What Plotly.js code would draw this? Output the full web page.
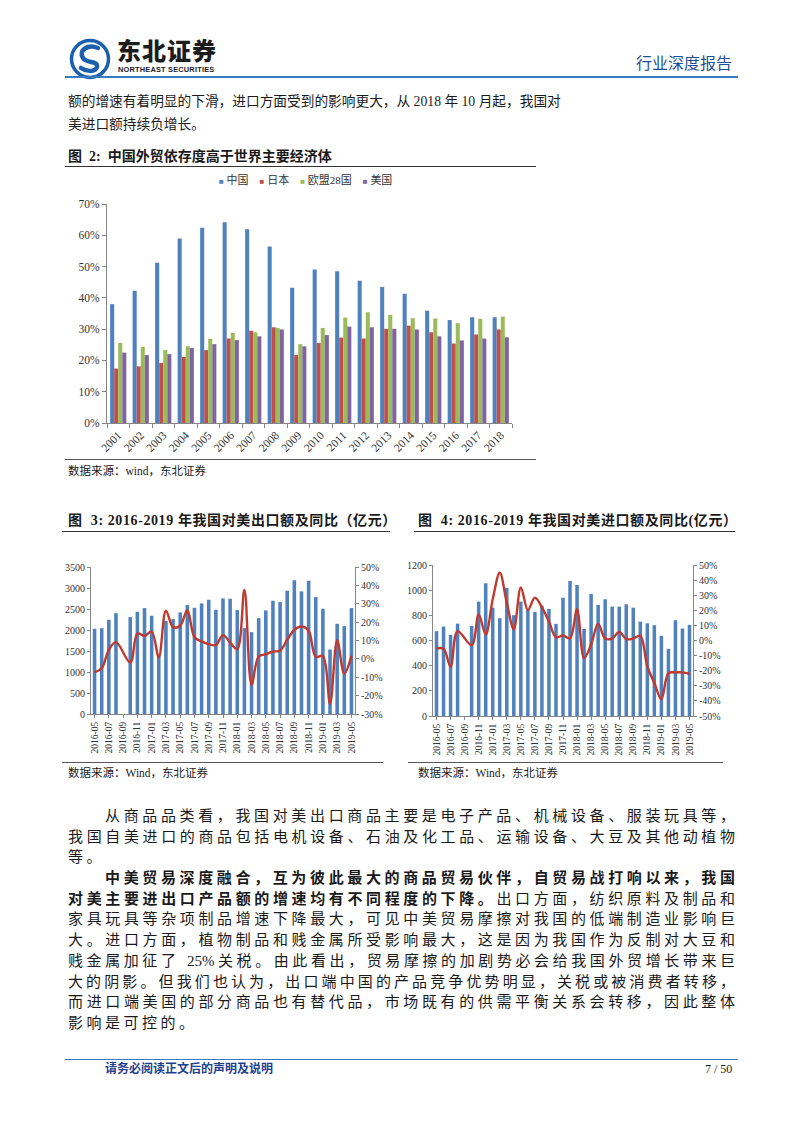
<!DOCTYPE html>
<html>
<head>
<meta charset="utf-8">
<script src="https://cdn.plot.ly/plotly-3.0.1.min.js"></script>
<style>
body{margin:0;width:802px;height:1133px;position:relative;background:#fff;overflow:hidden;
  font-family:"Liberation Serif","Noto Sans CJK SC",serif;color:#1a1a1a}
.a{position:absolute}
.ln{position:absolute;left:68px;width:667px;font-size:15px;line-height:20px;height:20px;
  text-align:justify;text-align-last:justify}
.ln.last{text-align:left;text-align-last:left;letter-spacing:3.5px}
.ln.ind{padding-left:37px;width:630px}
.top{position:absolute;left:68px;font-size:13.7px;line-height:20px;white-space:nowrap}
.hr{position:absolute;height:0}
.ftitle{position:absolute;font-size:14px;font-weight:bold;line-height:18px;white-space:nowrap}
.src{position:absolute;font-size:11.5px;line-height:14px;white-space:nowrap}
b{font-weight:bold}
</style>
</head>
<body>

<!-- header -->
<svg class="a" style="left:68px;top:38px" width="46" height="42" viewBox="0 0 46 42">
  <circle cx="22" cy="21" r="18.5" fill="none" stroke="#1b5fae" stroke-width="3.5"/>
  <path d="M30 10 C20 6 10 12 15 20 C19 26 30 22 29 29 C27 35 17 33 13 30" fill="none" stroke="#1b5fae" stroke-width="4.5" stroke-linecap="round"/>
</svg>
<div class="a" style="left:117px;top:37px;font-family:'Noto Sans CJK SC';font-weight:900;font-size:24px;line-height:26px;color:#1c1c1c;letter-spacing:1px">东北证券</div>
<div class="a" style="left:118px;top:66px;font-family:'Liberation Sans';font-weight:bold;font-size:7.4px;line-height:8px;color:#1c1c1c;letter-spacing:0.2px">NORTHEAST SECURITIES</div>
<div class="a" style="left:636px;top:52px;font-family:'Noto Sans CJK SC';font-size:16px;line-height:20px;color:#1f4f95">行业深度报告</div>
<div class="hr" style="left:65px;top:76px;width:673px;border-top:2px solid #3a78c2"></div>

<!-- top paragraph -->
<div class="top" style="top:92px">额的增速有着明显的下滑，进口方面受到的影响更大，从 2018 年 10 月起，我国对</div>
<div class="top" style="top:115px">美进口额持续负增长。</div>

<!-- figure 2 -->
<div class="ftitle" style="left:68px;top:148px">图&nbsp; 2:&nbsp; 中国外贸依存度高于世界主要经济体</div>
<div class="hr" style="left:65px;top:166px;width:471px;border-top:1.5px solid #333"></div>
<div id="c2" class="a" style="left:65px;top:168px;width:470px;height:290px"></div>
<div class="hr" style="left:65px;top:459px;width:471px;border-top:1px solid #555"></div>
<div class="src" style="left:68px;top:464px">数据来源：wind，东北证券</div>

<!-- figure 3 / 4 -->
<div class="ftitle" style="left:68px;top:512px;letter-spacing:0.6px">图&nbsp; 3:&nbsp;2016-2019 年我国对美出口额及同比（亿元）</div>
<div class="hr" style="left:62px;top:531px;width:328px;border-top:1.5px solid #333"></div>
<div class="ftitle" style="left:418px;top:512px;letter-spacing:0.6px">图&nbsp; 4:&nbsp;2016-2019 年我国对美进口额及同比(亿元）</div>
<div class="hr" style="left:414px;top:531px;width:321px;border-top:1.5px solid #333"></div>
<div id="c3" class="a" style="left:62px;top:540px;width:328px;height:215px"></div>
<div id="c4" class="a" style="left:408px;top:540px;width:315px;height:215px"></div>
<div class="hr" style="left:62px;top:762px;width:321px;border-top:1px solid #555"></div>
<div class="hr" style="left:408px;top:762px;width:315px;border-top:1px solid #555"></div>
<div class="src" style="left:68px;top:766px">数据来源：Wind，东北证券</div>
<div class="src" style="left:418px;top:766px">数据来源：Wind，东北证券</div>

<!-- bottom paragraphs -->
<div class="ln ind" style="top:806px">从商品品类看，我国对美出口商品主要是电子产品、机械设备、服装玩具等，</div>
<div class="ln" style="top:827px">我国自美进口的商品包括电机设备、石油及化工品、运输设备、大豆及其他动植物</div>
<div class="ln last" style="top:847px">等。</div>
<div class="ln ind" style="top:868px"><b>中美贸易深度融合，互为彼此最大的商品贸易伙伴，自贸易战打响以来，我国</b></div>
<div class="ln" style="top:889px"><b>对美主要进出口产品额的增速均有不同程度的下降。</b>出口方面，纺织原料及制品和</div>
<div class="ln" style="top:909px">家具玩具等杂项制品增速下降最大，可见中美贸易摩擦对我国的低端制造业影响巨</div>
<div class="ln" style="top:930px">大。进口方面，植物制品和贱金属所受影响最大，这是因为我国作为反制对大豆和</div>
<div class="ln" style="top:951px">贱金属加征了 25%关税。由此看出，贸易摩擦的加剧势必会给我国外贸增长带来巨</div>
<div class="ln" style="top:972px">大的阴影。但我们也认为，出口端中国的产品竞争优势明显，关税或被消费者转移，</div>
<div class="ln" style="top:992px">而进口端美国的部分商品也有替代品，市场既有的供需平衡关系会转移，因此整体</div>
<div class="ln last" style="top:1013px">影响是可控的。</div>

<!-- footer -->
<div class="hr" style="left:65px;top:1059px;width:673px;border-top:1.5px solid #3a78c2"></div>
<div class="a" style="left:105px;top:1061px;font-size:12px;line-height:16px;font-weight:bold;color:#1f3f8f;white-space:nowrap">请务必阅读正文后的声明及说明</div>
<div class="a" style="left:705px;top:1061px;font-size:12px;line-height:16px;white-space:nowrap">7 / 50</div>

<script>
// 图2 外贸依存度 (%)
const years = ['2001','2002','2003','2004','2005','2006','2007','2008','2009','2010','2011','2012','2013','2014','2015','2016','2017','2018'];
const chinaDep = [38.0,42.3,51.2,59.0,62.4,64.2,61.9,56.4,43.2,49.1,48.5,45.5,43.5,41.3,35.9,32.9,33.8,33.8];
const japanDep = [17.4,18.1,19.2,21.1,23.3,27.0,29.5,30.6,21.7,25.6,27.3,27.0,30.1,31.1,29.0,25.4,28.3,29.9];
const euDep    = [25.6,24.3,23.3,24.5,26.9,28.8,29.0,30.4,25.2,30.4,33.7,35.4,34.6,33.5,33.4,31.9,33.3,34.0];
const usDep    = [22.5,21.7,22.0,24.0,25.2,26.5,27.7,29.9,24.5,28.1,30.8,30.6,30.1,29.9,27.7,26.4,27.0,27.4];
const depNames = ['中国','日本','欧盟28国','美国'];
const depColors = ['#4f81bd','#c0504d','#9bbb59','#8064a2'];
const pctTicks2 = [0,10,20,30,40,50,60,70];

// 图3/图4 月度 (亿元, 同比%)
const months = ['2016-05','2016-06','2016-07','2016-08','2016-09','2016-10','2016-11','2016-12',
  '2017-01','2017-02','2017-03','2017-04','2017-05','2017-06','2017-07','2017-08','2017-09','2017-10','2017-11','2017-12',
  '2018-01','2018-02','2018-03','2018-04','2018-05','2018-06','2018-07','2018-08','2018-09','2018-10','2018-11','2018-12',
  '2019-01','2019-02','2019-03','2019-04','2019-05'];
const exportVal = [2028,2044,2243,2402,null,2307,2434,2522,2339,1410,2219,2259,2418,2593,2530,2633,2720,2482,2752,2744,
  2474,2044,1949,2283,2466,2697,2665,2935,3182,2920,3174,2784,2506,1535,2148,2092,2522];
const exportYoY = [-7.3,-5.1,4.9,9.1,null,-2.0,13.8,12.5,14.9,0.9,26.2,17.3,18.0,26.5,11.8,9.5,8.0,7.5,12.9,8.9,
  5.3,37.6,-14.0,1.3,2.5,4.0,4.5,10.4,15.8,17.6,15.3,1.1,1.6,-24.5,10.2,-8.0,1.6];
const importVal = [674,711,645,734,null,716,909,1055,861,777,1017,801,909,843,827,877,851,732,940,1073,
  1041,692,970,883,928,869,869,888,861,750,737,722,637,534,761,695,724];
const importYoY = [-5.3,-5.5,-17.4,6.2,null,-3.1,17.2,4.0,27.3,44.9,25.1,7.5,35.2,20.3,28.4,22.0,12.6,2.2,3.3,1.5,
  20.7,-11.7,-2.6,11.0,1.3,1.3,5.7,0.9,1.3,3.1,-17.2,-28.2,-38.8,-21.6,-21.1,-21.1,-22.0];
const monthTicks = months.filter((m,i)=>i%2===0);
const expTicks = [0,500,1000,1500,2000,2500,3000,3500];
const expPctTicks = [-30,-20,-10,0,10,20,30,40,50];
const impTicks = [0,200,400,600,800,1000,1200];
const impPctTicks = [-50,-40,-30,-20,-10,0,10,20,30,40,50];

const FONT = 'Liberation Serif, Noto Sans CJK SC, serif';
const AX = '#868686';
const cfg = {staticPlot:true, displayModeBar:false};
const lineRed = '#c0392f';

// ---- chart 2
const depSeries = [chinaDep, japanDep, euDep, usDep];
const legendText = depNames.map((n,i)=>"<span style='color:"+depColors[i]+";font-size:8px'>■</span> "+n).join('&nbsp;&nbsp;&nbsp;&nbsp;');
Plotly.newPlot('c2', depSeries.map((s,i)=>({
  x: years, y: s, type:'bar', name: depNames[i], marker:{color: depColors[i]}
})), {
  width:470, height:290, margin:{l:42, r:23, t:36, b:35},
  paper_bgcolor:'#fff', plot_bgcolor:'#fff',
  font:{family:FONT, color:'#333'},
  barmode:'group', bargap:0.28, bargroupgap:0, showlegend:false,
  xaxis:{type:'category', tickangle:-45, showline:true, linecolor:AX, ticks:'outside', ticklen:4,
    tickcolor:AX, tickson:'boundaries', tickfont:{size:11.5}, automargin:false},
  yaxis:{range:[0,70], tickvals:pctTicks2, ticktext:pctTicks2.map(v=>v+'%'), showline:true, linecolor:AX,
    ticks:'outside', ticklen:4, tickcolor:AX, showgrid:false, zeroline:false, tickfont:{size:11.5}, automargin:false},
  annotations:[{xref:'paper', yref:'paper', x:0.49, y:1.112, xanchor:'center', yanchor:'middle',
    showarrow:false, text:legendText, font:{size:11, family:FONT, color:'#333'}}]
}, cfg);

// ---- chart 3 / 4
function dualChart(id, w, m, vals, yoy, ticks, pctTicks){
  Plotly.newPlot(id, [
    {x:months, y:vals, type:'bar', marker:{color:'#4f81bd'}, yaxis:'y'},
    {x:months, y:yoy, type:'scatter', mode:'lines', yaxis:'y2', connectgaps:true,
      line:{color:lineRed, width:2.4, shape:'spline', smoothing:1}}
  ], {
    width:w, height:215, margin:m,
    paper_bgcolor:'#fff', plot_bgcolor:'#fff',
    font:{family:FONT, color:'#333'}, showlegend:false, bargap:0.5,
    xaxis:{type:'category', tickangle:-90, tickvals:monthTicks, ticktext:monthTicks, showline:true,
      linecolor:AX, ticks:'outside', ticklen:3, tickcolor:AX, tickfont:{size:9.5}, automargin:false},
    yaxis:{range:[ticks[0], ticks[ticks.length-1]], tickvals:ticks, ticktext:ticks.map(String), showline:true,
      linecolor:AX, ticks:'outside', ticklen:3, tickcolor:AX, showgrid:false, zeroline:false,
      tickfont:{size:10}, automargin:false},
    yaxis2:{overlaying:'y', side:'right', range:[pctTicks[0], pctTicks[pctTicks.length-1]], tickvals:pctTicks,
      ticktext:pctTicks.map(v=>v+'%'), showline:true, linecolor:AX, ticks:'outside', ticklen:3, tickcolor:AX,
      showgrid:false, zeroline:false, tickfont:{size:10}, automargin:false}
  }, cfg);
}
dualChart('c3', 328, {l:29, r:35, t:27, b:41}, exportVal, exportYoY, expTicks, expPctTicks);
dualChart('c4', 315, {l:25, r:30, t:25, b:39}, importVal, importYoY, impTicks, impPctTicks);
</script>
</body>
</html>
